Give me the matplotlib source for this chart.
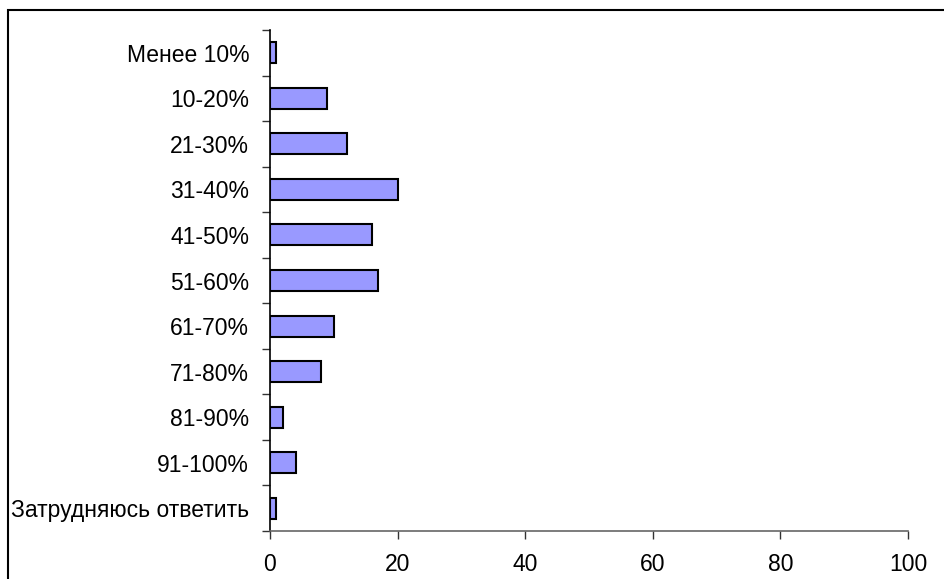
import matplotlib.pyplot as plt
from matplotlib.patches import Rectangle
import numpy as np

categories = ["Менее 10%", "10-20%", "21-30%", "31-40%", "41-50%", "51-60%",
              "61-70%", "71-80%", "81-90%", "91-100%", "Затрудняюсь ответить"]
values = [1, 9, 12, 20, 16, 17, 10, 8, 2, 4, 1]

plt.rcParams['font.family'] = ['Liberation Sans', 'DejaVu Sans']

fig = plt.figure(figsize=(9.44, 5.79), dpi=100)
ax = fig.add_axes([270 / 944, 1 - 531 / 579, 638 / 944, 501 / 579])

y = np.arange(len(categories))
ax.barh(y, values, height=0.46, color='#9999ff', edgecolor='black', linewidth=1.5)

ax.set_xlim(0, 100)
ax.set_ylim(len(categories) - 0.5, -0.5)
ax.set_xticks([0, 20, 40, 60, 80, 100])
ax.tick_params(axis='x', direction='out', length=6, width=1, color='#333333',
               labelsize=16.5, pad=10)

ax.set_yticks(y)
ax.set_yticklabels(categories)
ax.tick_params(axis='y', which='major', length=0, labelsize=16.5, pad=15)
ax.set_yticks(np.arange(-0.5, len(categories), 1), minor=True)
ax.tick_params(axis='y', which='minor', direction='out', length=6, width=1, color='#333333')

for s in ['top', 'right']:
    ax.spines[s].set_visible(False)
ax.spines['left'].set_color('black')
ax.spines['left'].set_linewidth(1.2)
ax.spines['bottom'].set_color('#666666')
ax.spines['bottom'].set_linewidth(1.2)

# outer frame (right and bottom edges fall outside the image)
fig.patches.append(Rectangle((8 / 944, -0.1), 1.0, 1 - 10 / 579 + 0.1,
                             transform=fig.transFigure, fill=False,
                             edgecolor='black', linewidth=1.5))

fig.savefig('out.png', dpi=100)
